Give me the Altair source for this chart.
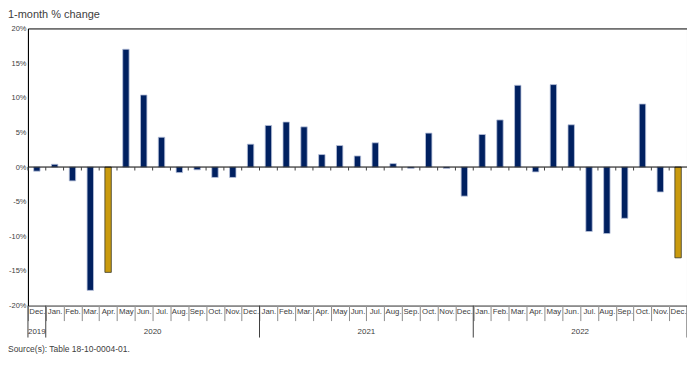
import altair as alt
import pandas as pd

month_labels = ["Dec.", "Jan.", "Feb.", "Mar.", "Apr.", "May", "Jun.", "Jul.", "Aug.", "Sep.", "Oct.", "Nov.", "Dec.",
                "Jan.", "Feb.", "Mar.", "Apr.", "May", "Jun.", "Jul.", "Aug.", "Sep.", "Oct.", "Nov.", "Dec.",
                "Jan.", "Feb.", "Mar.", "Apr.", "May", "Jun.", "Jul.", "Aug.", "Sep.", "Oct.", "Nov.", "Dec."]
years = [2019] + [2020] * 12 + [2021] * 12 + [2022] * 12
values = [-0.6, 0.4, -2.0, -17.8, -15.2, 17.0, 10.4, 4.3, -0.8, -0.4, -1.5, -1.5, 3.3,
          6.0, 6.5, 5.8, 1.8, 3.1, 1.6, 3.5, 0.5, -0.2, 4.9, -0.2, -4.2,
          4.7, 6.8, 11.8, -0.7, 11.9, 6.1, -9.3, -9.6, -7.4, 9.1, -3.6, -13.1]
highlighted = [4, 36]
year_labels = ["2019", "2020", "2021", "2022"]
y_ticks = [-20, -15, -10, -5, 0, 5, 10, 15, 20]
source_text = "Source(s): Table 18-10-0004-01."
title_text = "1-month % change"

W, H = 661, 278
FONT = "Liberation Sans"
NAVY = "#002060"
GOLD = "#C99A0E"

keys = [f"{m}|{y}|{i}" for i, (m, y) in enumerate(zip(month_labels, years))]
df = pd.DataFrame({
    "key": keys,
    "value": values,
    "hl": ["yes" if i in highlighted else "no" for i in range(len(keys))],
})

first_idx = [years.index(int(y)) for y in year_labels]
last_idx = [len(years) - 1 - years[::-1].index(int(y)) for y in year_labels]
year_df = pd.DataFrame({
    "label": year_labels,
    "key": [keys[(f + l) // 2] for f, l in zip(first_idx, last_idx)],
    "odd": [((l - f + 1) % 2 == 1) for f, l in zip(first_idx, last_idx)],
})
sep_df = pd.DataFrame({"key": [keys[i] for i in first_idx]})
end_df = pd.DataFrame({"key": [keys[-1]]})

xscale = alt.Scale(domain=keys, paddingInner=0, paddingOuter=0)
yscale = alt.Scale(domain=[-20, 20], nice=False)

xaxis = alt.Axis(title=None,
                 labelExpr="isString(datum.value) ? split(datum.value, '|')[0] : ''",
                 labelAngle=0, tickBand="extent", tickSize=15, tickColor="#8c8c8c",
                 domainColor="#a6a6a6", labelPadding=-13, labelOverlap=False,
                 labelBound=False, labelFontSize=7.8, labelColor="#404040", labelFont=FONT)
yaxis = alt.Axis(title=None, values=y_ticks, labelExpr="datum.value + '%'",
                 ticks=False, grid=False, domainColor="#000000", labelFontSize=7.5,
                 labelColor="#404040", labelPadding=2, labelFont=FONT, labelOverlap=False,
                 labelFlush=False, labelBaseline="middle")

base = alt.Chart(df)

bars = base.mark_bar(width=alt.RelativeBandSize(0.36), strokeWidth=0.8).encode(
    x=alt.X("key:N", scale=xscale, axis=xaxis),
    y=alt.Y("value:Q", scale=yscale, axis=yaxis),
    color=alt.Color("hl:N", scale=alt.Scale(domain=["no", "yes"], range=[NAVY, GOLD]), legend=None),
    stroke=alt.Stroke("hl:N", scale=alt.Scale(domain=["no", "yes"], range=["#b8c1da", "#3a3a2a"]), legend=None),
)

zero = alt.Chart(pd.DataFrame({"v": [0]})).mark_rule(color="#000000", strokeWidth=1).encode(
    y=alt.Y("v:Q", scale=yscale, axis=yaxis)
)

zero_ticks = base.mark_rule(color="#404040", strokeWidth=1).encode(
    x=alt.X("key:N", scale=xscale, axis=xaxis, bandPosition=0),
    y=alt.YDatum(0, scale=yscale, axis=yaxis),
    y2=alt.Y2Datum(-0.5),
)

year_seps = alt.Chart(sep_df).mark_rule(color="#404040", strokeWidth=1).encode(
    x=alt.X("key:N", scale=xscale, axis=xaxis, bandPosition=0),
    y=alt.value(H),
    y2=alt.value(H + 32),
)
end_sep = alt.Chart(end_df).mark_rule(color="#404040", strokeWidth=1).encode(
    x=alt.X("key:N", scale=xscale, axis=xaxis, bandPosition=1),
    y=alt.value(H),
    y2=alt.value(H + 32),
)

year_text_odd = alt.Chart(year_df).transform_filter("datum.odd").mark_text(
    fontSize=8, color="#404040", font=FONT, baseline="middle").encode(
    x=alt.X("key:N", scale=xscale, axis=xaxis, bandPosition=0.5),
    y=alt.value(H + 26),
    text="label:N",
)
year_text_even = alt.Chart(year_df).transform_filter("!datum.odd").mark_text(
    fontSize=8, color="#404040", font=FONT, baseline="middle").encode(
    x=alt.X("key:N", scale=xscale, axis=xaxis, bandPosition=1),
    y=alt.value(H + 26),
    text="label:N",
)

source = alt.Chart(pd.DataFrame({"t": [source_text]})).mark_text(
    align="left", baseline="middle", fontSize=8.5, color="#404040", font=FONT).encode(
    x=alt.value(-20),
    y=alt.value(H + 44),
    text="t:N",
)

chart = alt.layer(
    bars, zero, zero_ticks, year_seps, end_sep, year_text_odd, year_text_even, source
).properties(
    width=W, height=H,
    autosize=alt.AutoSizeParams(type="none"),
    padding={"left": 20, "top": 20, "right": 0, "bottom": 50},
    title=alt.TitleParams(title_text, anchor="start", frame="group", dx=-20, offset=4, fontSize=11,
                          fontWeight="normal", color="#404040", font=FONT),
).configure_view(stroke="#000000", strokeWidth=1)

chart.save("out.html", embed_options={"renderer": "svg", "actions": False})
